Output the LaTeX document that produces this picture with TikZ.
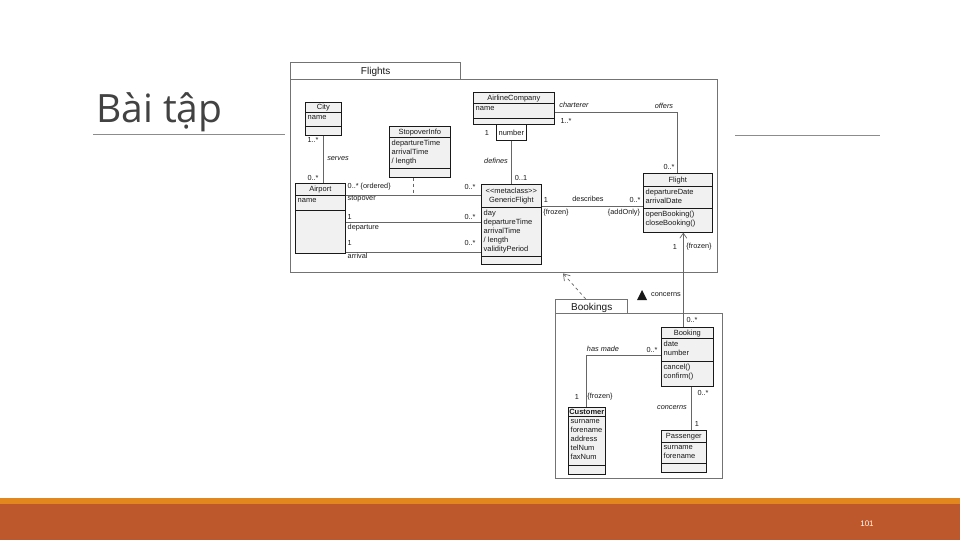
\documentclass[tikz,border=0pt]{standalone}
\usepackage{fontspec}
\setmainfont{Liberation Sans}
\newfontfamily\titlefont{Open Sans}
\usetikzlibrary{calc,arrows.meta}
\definecolor{barorange}{RGB}{226,135,30}
\definecolor{barrust}{RGB}{188,88,44}
\definecolor{umlfill}{RGB}{241,241,241}
\definecolor{ink}{RGB}{25,25,25}
\tikzset{
 clsbox/.style={draw=ink, fill=umlfill, line width=0.6pt, inner sep=0pt, anchor=north west},
 clsline/.style={draw=ink, line width=0.6pt},
 clsname/.style={font=\fontsize{7.5}{8.6}\selectfont, text=ink, inner sep=0pt, align=center},
 clsattr/.style={font=\fontsize{7.5}{9}\selectfont, text=ink, inner sep=0pt, anchor=north west, align=left},
 pkg/.style={draw=black!55, fill=white, line width=1.4pt, inner sep=0pt, anchor=north west},
 assoc/.style={draw=black!60, line width=0.7pt},
 mult/.style={font=\fontsize{7.3}{8}\selectfont, text=ink, inner sep=0.5pt},
 role/.style={font=\fontsize{7.3}{8}\selectfont\itshape, text=ink, inner sep=0.5pt},
}
\newcommand{\umlcls}[9]{%
 \node[clsbox, minimum width=#3pt, minimum height=#4pt] (#1) at #2 {};
 \node[clsname] (#1-name) at ($(#1.north)+(0,#5/2+0.8)$) {#7};
 \draw[clsline] ($(#1.north west)+(0,#5)$) -- ($(#1.north east)+(0,#5)$);
 \node[clsattr] (#1-attr) at ($(#1.north west)+(2.5,#5+3.3)$) {#8};
 \draw[clsline] ($(#1.north west)+(0,#6)$) -- ($(#1.north east)+(0,#6)$);
 \node[clsattr] (#1-ops) at ($(#1.north west)+(2.5,#6+3.3)$) {#9};
}
\begin{document}
\begin{tikzpicture}[x=1pt,y=-1pt]
\useasboundingbox (0,0) rectangle (960,540);
\fill[white] (0,0) rectangle (960,540);
% title
\node[anchor=base west, inner sep=0pt, font=\titlefont\fontsize{39}{39}\selectfont, text=black!74] (title) at (96,123) {Bài tập};
\draw[black!45, line width=0.7pt] (93,134) -- (285,134);
\draw[black!45, line width=0.7pt] (735,135) -- (880,135);
% footer
\fill[barorange] (0,498) rectangle (960,504);
\fill[barrust] (0,504) rectangle (960,540);
\node[font=\fontsize{8}{9}\selectfont, text=white] (pageno) at (867,524) {101};
% packages
\node[pkg, minimum width=170pt, minimum height=17pt] (flightstab) at (290,62) {};
\node[font=\fontsize{10}{11}\selectfont, text=ink] (flightslbl) at ($(flightstab.center)+(0,1)$) {Flights};
\node[pkg, minimum width=427pt, minimum height=193pt] (flightsbox) at (290,79) {};
\node[pkg, minimum width=72pt, minimum height=14pt] (bookingstab) at (555,299) {};
\node[font=\fontsize{10}{11}\selectfont, text=ink] (bookingslbl) at ($(bookingstab.center)+(0,1)$) {Bookings};
\node[pkg, minimum width=167pt, minimum height=165pt] (bookingsbox) at (555,313) {};
% classes
\umlcls{city}{(305,102)}{36}{33}{10}{24}{City}{name}{}
\umlcls{stop}{(389,126)}{61}{51}{11}{42}{StopoverInfo}{departureTime\\arrivalTime\\/ length}{}
\umlcls{airport}{(295,183)}{50}{70}{12}{27}{Airport}{name}{}
\umlcls{generic}{(481,184)}{60}{80}{23}{72}{<\kern0pt<metaclass>\kern0pt>\\GenericFlight}{day\\departureTime\\arrivalTime\\/ length\\validityPeriod}{}
\umlcls{airline}{(473,92)}{81}{32}{11}{26}{AirlineCompany}{name}{}
\node[clsbox, fill=white, minimum width=30pt, minimum height=16pt] (number) at (496,124) {};
\node[clsname] (number-name) at ($(number.center)+(0,0.8)$) {number};
\umlcls{flight}{(643,173)}{69}{59}{13}{35}{Flight}{departureDate\\arrivalDate}{openBooking()\\closeBooking()}
\umlcls{booking}{(661,327)}{52}{59}{11}{34}{Booking}{date\\number}{cancel()\\confirm()}
\umlcls{customer}{(568,407)}{37}{67}{9}{58}{\textbf{Customer}}{surname\\forename\\address\\telNum\\faxNum}{}
\umlcls{passenger}{(661,430)}{45}{42}{12}{33}{Passenger}{surname\\forename}{}
% connectors
\draw[assoc] (city.south) -- (city.south |- airport.north);
\coordinate (so) at ($(airport.north east)+(0,12)$);
\coordinate (de) at ($(airport.north east)+(0,39)$);
\coordinate (ar) at ($(airport.north east)+(0,69)$);
\draw[assoc] (so) -- (so -| generic.west);
\draw[assoc] (de) -- (de -| generic.west);
\draw[assoc] (ar) -- (ar -| generic.west);
\coordinate (sx) at ($(stop.south)+(-6.5,0)$);
\draw[assoc, dashed] (sx) -- (sx |- so);
\draw[assoc] (number.south) -- (number.south |- generic.north);
\coordinate (ch) at ($(airline.north east)+(0,20)$);
\draw[assoc] (ch) -| (flight.north);
\coordinate (ds) at ($(generic.north east)+(0,22)$);
\draw[assoc] (ds) -- (ds -| flight.west);
\coordinate (fb) at ($(flight.south)+(5.5,0)$);
\draw[assoc, {Straight Barb[length=5pt,width=7pt]}-] (fb) -- (fb |- booking.north);
\coordinate (hm) at ($(booking.north west)+(0,28)$);
\draw[assoc] (hm) -| (customer.north);
\coordinate (bp) at ($(booking.south)+(4,0)$);
\draw[assoc] (bp) -- (bp |- passenger.north);
\coordinate (dep) at ($(flightsbox.south west)+(273,0)$);
\draw[assoc, dashed, -{Straight Barb[length=6pt,width=8pt]}] ($(bookingstab.north)+(-6,0)$) -- (dep);
\fill[ink] (637,300) -- (647,300) -- (642,290) -- cycle;
% labels
\node[mult] (l1) at (313,140) {1..*};
\node[role] (l2) at (338,159) {serves};
\node[mult] (l3) at (313,178) {0..*};
\node[mult, anchor=west] (l4) at (347,187) {0..* \{ordered\}};
\node[mult, anchor=west] (l5) at (347,199) {stopover};
\node[mult] (l6) at (470,187) {0..*};
\node[mult, anchor=west] (l7) at (347,217) {1};
\node[mult, anchor=west] (l8) at (347,228) {departure};
\node[mult] (l9) at (470,217) {0..*};
\node[mult, anchor=west] (l10) at (347,243) {1};
\node[mult, anchor=west] (l11) at (347,256) {arrival};
\node[mult] (l12) at (470,243) {0..*};
\node[mult] (l13) at (487,133) {1};
\node[role] (l14) at (496,161) {defines};
\node[mult] (l15) at (521,178) {0..1};
\node[role] (l16) at (574,105) {charterer};
\node[role] (l17) at (664,106) {offers};
\node[mult] (l18) at (566,121) {1..*};
\node[mult] (l19) at (669,167) {0..*};
\node[mult] (l20) at (546,200) {1};
\node[mult] (l21) at (588,199) {describes};
\node[mult] (l22) at (635,200) {0..*};
\node[mult] (l23) at (556,213) {\{frozen\}};
\node[mult] (l24) at (624,213) {\{addOnly\}};
\node[mult] (l25) at (675,247) {1};
\node[mult] (l26) at (699,247) {\{frozen\}};
\node[mult] (l27) at (666,295) {concerns};
\node[mult] (l28) at (692,320) {0..*};
\node[role] (l29) at (603,349) {has made};
\node[mult] (l30) at (652,350) {0..*};
\node[mult] (l31) at (577,397) {1};
\node[mult] (l32) at (600,397) {\{frozen\}};
\node[mult] (l33) at (703,393) {0..*};
\node[role] (l34) at (672,408) {concerns};
\node[mult] (l35) at (697,424) {1};
\end{tikzpicture}
\end{document}
